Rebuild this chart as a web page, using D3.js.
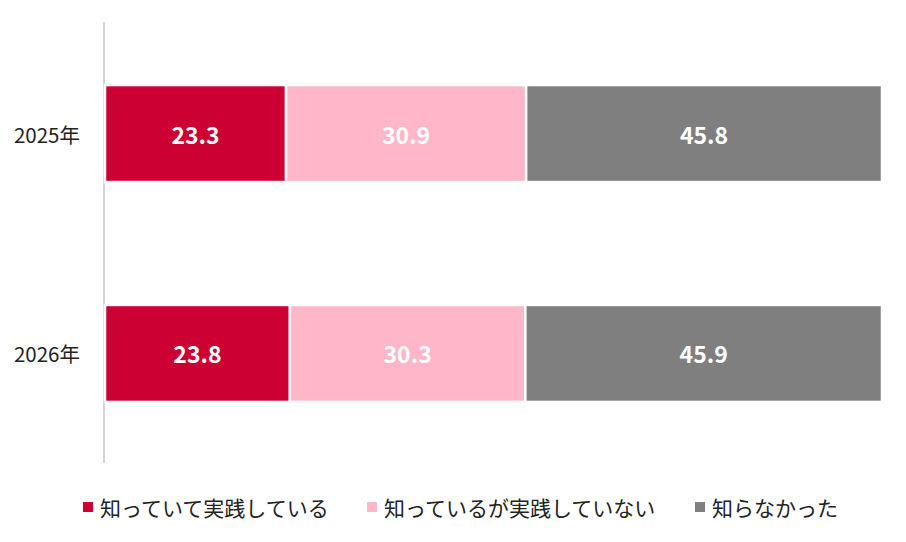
<!DOCTYPE html>
<html>
<head>
<meta charset="utf-8">
<script src="https://cdn.jsdelivr.net/npm/d3@7"></script>
<style>
  body { margin: 0; background: #fff; }
  svg { display: block; font-family: "Noto Sans CJK JP", "Noto Sans", sans-serif; }
</style>
</head>
<body>
<svg id="chart"></svg>
<script>
const years = ["2025年", "2026年"];
const seriesNames = ["知っていて実践している", "知っているが実践していない", "知らなかった"];
const knowAndPractice = [23.3, 23.8];
const knowNotPractice = [30.9, 30.3];
const didNotKnow = [45.8, 45.9];
const colors = ["#cc0033", "#ffb6c8", "#7f7f7f"];

const width = 906, height = 542;
const svg = d3.select("#chart").attr("width", width).attr("height", height);

const rows = years.map((y, i) => ({
    year: y,
    vals: [knowAndPractice[i], knowNotPractice[i], didNotKnow[i]]
}));

const xScale = d3.scaleLinear().domain([0, 100]).range([105, 882]);
const yScale = d3.scaleBand().domain(years).range([23.5, 463.5])
    .paddingInner(0.559).paddingOuter(0.28);

// category axis line
svg.append("line")
    .attr("x1", 104).attr("x2", 104)
    .attr("y1", 22).attr("y2", 463)
    .attr("stroke", "#d4d4d4").attr("stroke-width", 2);

// year labels
svg.append("g").selectAll("text")
    .data(years)
    .join("text")
    .attr("x", 80)
    .attr("y", d => yScale(d) + yScale.bandwidth() / 2)
    .attr("text-anchor", "end")
    .attr("dominant-baseline", "central")
    .attr("font-size", 20.5)
    .attr("fill", "#222")
    .text(d => d);

rows.forEach(r => {
    let acc = 0;
    const segs = r.vals.map((v, k) => {
        const s = { k, v, x0: acc, x1: acc + v };
        acc += v;
        return s;
    });
    const g = svg.append("g");
    g.selectAll("rect")
        .data(segs)
        .join("rect")
        .attr("x", d => xScale(d.x0))
        .attr("y", yScale(r.year))
        .attr("width", d => xScale(d.x1) - xScale(d.x0))
        .attr("height", yScale.bandwidth())
        .attr("fill", d => colors[d.k])
        .attr("stroke", "#fff")
        .attr("stroke-width", 2.5);
    g.selectAll("text")
        .data(segs)
        .join("text")
        .attr("x", d => (xScale(d.x0) + xScale(d.x1)) / 2)
        .attr("y", yScale(r.year) + yScale.bandwidth() / 2)
        .attr("text-anchor", "middle")
        .attr("dominant-baseline", "central")
        .attr("font-size", 23)
        .attr("font-weight", "bold")
        .attr("fill", "#fff")
        .text(d => d.v.toFixed(1));
});

// legend
const legendX = [83, 367, 695];
const legend = svg.append("g").selectAll("g")
    .data(seriesNames)
    .join("g")
    .attr("transform", (d, i) => `translate(${legendX[i]}, 507)`);
legend.append("rect")
    .attr("x", 0).attr("y", -5)
    .attr("width", 10).attr("height", 10)
    .attr("fill", (d, i) => colors[i]);
legend.append("text")
    .attr("x", 17)
    .attr("y", 0)
    .attr("dominant-baseline", "central")
    .attr("font-size", 21)
    .attr("fill", "#222")
    .text(d => d);
</script>
</body>
</html>
